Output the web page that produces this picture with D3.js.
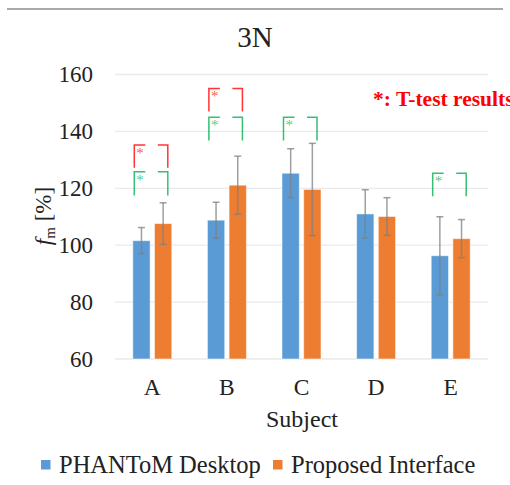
<!DOCTYPE html>
<html lang="en">
<head>
<meta charset="UTF-8">
<title>3N</title>
<script src="https://d3js.org/d3.v7.min.js"></script>
<style>
  body { margin: 0; background: #fff; }
  svg text { font-family: "Liberation Serif", "Times New Roman", serif; }
</style>
</head>
<body>
<div id="chart"></div>
<script>
    const subjects = ["A", "B", "C", "D", "E"];
    const seriesNames = ["PHANToM Desktop", "Proposed Interface"];
    const desktopMean = [101.6, 108.8, 125.3, 111.0, 96.3];
    const desktopErr = [4.6, 6.3, 8.6, 8.5, 13.7];
    const proposedMean = [107.6, 121.1, 119.6, 110.1, 102.3];
    const proposedErr = [7.3, 10.2, 16.2, 6.6, 6.7];
    const yTicks = [60, 80, 100, 120, 140, 160];
    // significance brackets: subject, colour, top value, bottom value
    const sigSubject = ["A", "A", "B", "B", "C", "E"];
    const sigColor = ["#ff0000", "#00b050", "#ff0000", "#00b050", "#00b050", "#00b050"];
    const sigTop = [135.2, 125.8, 155.1, 145.0, 145.0, 125.3];
    const sigBottom = [127.2, 117.5, 147.0, 136.8, 136.8, 117.2];

    const colors = { "PHANToM Desktop": "#5b9bd5", "Proposed Interface": "#ed7d31" };
    const serif = "'Liberation Serif', 'Times New Roman', serif";

    const W = 510, H = 485;
    const plot = { left: 115, right: 488, top: 74.5, bottom: 359 };

    const svg = d3.select("#chart").append("svg")
        .attr("width", W).attr("height", H);

    // top rule
    svg.append("line")
        .attr("x1", 7).attr("x2", 503).attr("y1", 9).attr("y2", 9)
        .attr("stroke", "#555").attr("stroke-width", 1.2);

    svg.append("text")
        .attr("x", 255).attr("y", 47)
        .attr("text-anchor", "middle")
        .attr("font-size", 29)
        .attr("fill", "#222")
        .text("3N");

    const x0 = d3.scaleBand().domain(subjects).range([plot.left, plot.right]).paddingInner(0.477).paddingOuter(0.2385);
    const x1 = d3.scaleBand().domain(seriesNames).range([0, x0.bandwidth()]).paddingInner(0.2);
    const y = d3.scaleLinear().domain([60, 160]).range([plot.bottom, plot.top]);

    // grid
    svg.append("g")
        .selectAll("line")
        .data(yTicks)
        .join("line")
        .attr("x1", plot.left).attr("x2", plot.right)
        .attr("y1", d => y(d)).attr("y2", d => y(d))
        .attr("stroke", "#eaeaea").attr("stroke-width", 1.3);

    // y axis labels
    const yAxis = svg.append("g")
        .attr("transform", `translate(${plot.left},0)`)
        .call(d3.axisLeft(y).tickValues(yTicks).tickSize(0).tickPadding(22));
    yAxis.select(".domain").remove();
    yAxis.selectAll("text")
        .style("font-family", serif)
        .attr("font-size", 23)
        .attr("fill", "#222");

    // x axis labels
    const xAxis = svg.append("g")
        .attr("transform", `translate(0,${plot.bottom})`)
        .call(d3.axisBottom(x0).tickSize(0).tickPadding(19));
    xAxis.select(".domain").remove();
    xAxis.selectAll("text")
        .style("font-family", serif)
        .attr("font-size", 23.5)
        .attr("fill", "#222");

    svg.append("text")
        .attr("x", 302).attr("y", 427)
        .attr("text-anchor", "middle")
        .attr("font-size", 24)
        .attr("fill", "#222")
        .text("Subject");

    // y axis title f_m [%]
    const yt = svg.append("text")
        .attr("transform", "translate(51,216) rotate(-90)")
        .attr("text-anchor", "middle")
        .attr("font-size", 23)
        .attr("fill", "#222");
    yt.append("tspan").attr("font-style", "italic").text("f");
    yt.append("tspan").attr("font-size", 15).attr("dy", 4).text("m");
    yt.append("tspan").attr("dy", -4).text(" [%]");

    const rows = [];
    subjects.forEach((s, i) => {
        rows.push({ s, name: seriesNames[0], v: desktopMean[i], e: desktopErr[i] });
        rows.push({ s, name: seriesNames[1], v: proposedMean[i], e: proposedErr[i] });
    });

    // bars
    svg.append("g")
        .selectAll("rect")
        .data(rows)
        .join("rect")
        .attr("x", d => x0(d.s) + x1(d.name))
        .attr("y", d => y(d.v))
        .attr("width", x1.bandwidth())
        .attr("height", d => y(60) - y(d.v))
        .attr("fill", d => colors[d.name])
        .attr("stroke", "rgba(255,255,255,0.55)")
        .attr("stroke-width", 1);

    // error bars
    const eb = svg.append("g")
        .attr("stroke", "#7f7f7f")
        .attr("stroke-opacity", 0.75)
        .attr("stroke-width", 1.5);
    rows.forEach(d => {
        const cx = x0(d.s) + x1(d.name) + x1.bandwidth() / 2;
        eb.append("line").attr("x1", cx).attr("x2", cx)
            .attr("y1", y(d.v + d.e)).attr("y2", y(d.v - d.e));
        [d.v + d.e, d.v - d.e].forEach(v => {
            eb.append("line").attr("x1", cx - 3.5).attr("x2", cx + 3.5)
                .attr("y1", y(v)).attr("y2", y(v));
        });
    });

    // significance brackets
    const sig = svg.append("g");
    sigSubject.forEach((s, i) => {
        const l = x0(s) + 1.5;
        const r = x0(s) + x0.bandwidth() - 4;
        const t = y(sigTop[i]), b = y(sigBottom[i]);
        const c = sigColor[i];
        sig.append("path")
            .attr("d", `M${l},${b}V${t}H${l + 11}`)
            .attr("fill", "none").attr("stroke", c).attr("stroke-width", 1.5).attr("stroke-opacity", 0.8);
        sig.append("path")
            .attr("d", `M${r - 10},${t}H${r}V${b}`)
            .attr("fill", "none").attr("stroke", c).attr("stroke-width", 1.5).attr("stroke-opacity", 0.8);
        sig.append("text")
            .attr("x", l + 2).attr("y", t + 13)
            .attr("font-size", 15)
            .attr("fill", c)
            .attr("fill-opacity", 0.7)
            .text("*");
    });

    svg.append("text")
        .attr("x", 373).attr("y", 106)
        .attr("font-size", 21.5)
        .attr("font-weight", "bold")
        .attr("fill", "#ff0000")
        .text("*: T-test results");

    // legend
    const legend = svg.append("g");
    const legX = [41, 273];
    seriesNames.forEach((n, i) => {
        legend.append("rect")
            .attr("x", legX[i]).attr("y", 460)
            .attr("width", 9.5).attr("height", 9.5)
            .attr("fill", colors[n]);
        legend.append("text")
            .attr("x", legX[i] + 18).attr("y", 473)
            .attr("font-size", 24.5)
            .attr("fill", "#222")
            .text(n);
    });
</script>
</body>
</html>
